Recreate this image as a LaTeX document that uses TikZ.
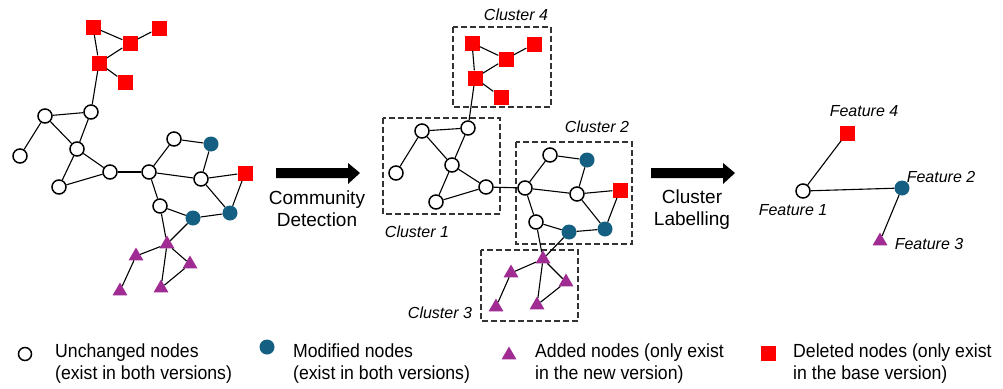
\documentclass[tikz,border=0pt]{standalone}
\usepackage{fontspec}
\setmainfont{Liberation Sans}
\newfontfamily\legfont[FakeStretch=0.93]{Liberation Sans}
\usetikzlibrary{shapes.geometric}
\definecolor{modblue}{HTML}{156082}
\definecolor{addpurple}{HTML}{A02B93}
\definecolor{delred}{HTML}{FF0000}
\tikzset{
  wnode/.style={circle,draw=black,line width=1.5pt,fill=white,minimum size=14pt,inner sep=0pt},
  bnode/.style={circle,fill=modblue,minimum size=15pt,inner sep=0pt},
  rnode/.style={rectangle,fill=delred,minimum size=15pt,inner sep=0pt},
  tnode/.style={regular polygon,regular polygon sides=3,fill=addpurple,minimum size=17pt,inner sep=0pt},
  edge/.style={line width=1.1pt,black},
  clusterbox/.style={draw=black!80,line width=1.2pt,dash pattern=on 6pt off 3pt},
  clabel/.style={font=\fontsize{16}{18}\selectfont\itshape,inner sep=0pt},
  stepdesc/.style={font=\fontsize{19}{22}\selectfont,align=center,inner sep=0pt},
  legtext/.style={font=\legfont\fontsize{19}{22}\selectfont,align=left,anchor=west,inner sep=0pt},
}
\begin{document}
\begin{tikzpicture}[x=1pt,y=-1pt]
\useasboundingbox (0,0) rectangle (1003,388);

% ---------------- Left graph ----------------
\node[rnode] (lS1) at (93,27) {};
\node[rnode] (lS2) at (130,43) {};
\node[rnode] (lS3) at (159,28) {};
\node[rnode] (lS4) at (99,63) {};
\node[rnode] (lS5) at (125,82) {};
\node[wnode] (lA) at (45,116) {};
\node[wnode] (lB) at (91,112) {};
\node[wnode] (lC) at (20,156) {};
\node[wnode] (lD) at (77,149) {};
\node[wnode] (lE) at (110,172) {};
\node[wnode] (lF) at (59,187) {};
\node[wnode] (lG) at (149,172) {};
\node[wnode] (lH) at (174,139) {};
\node[wnode] (lI) at (201,179) {};
\node[wnode] (lJ) at (160,206) {};
\node[bnode] (lK) at (211,144) {};
\node[bnode] (lL) at (193,218) {};
\node[bnode] (lM) at (230,213) {};
\node[rnode] (lN) at (245,173) {};
\node[tnode] (lT1) at (167,244) {};
\node[tnode] (lT2) at (136,256) {};
\node[tnode] (lT3) at (190,264) {};
\node[tnode] (lT4) at (120,291) {};
\node[tnode] (lT5) at (161,288) {};
\foreach \a/\b in {S1/S4,S1/S2,S2/S3,S2/S4,S4/S5,S4/B,A/B,A/C,A/D,B/D,D/E,D/F,E/F,E/G,G/H,G/I,G/J,H/K,K/I,I/N,I/M,N/M,J/L,L/M,J/T1,L/T1,T1/T2,T1/T5,T1/T3,T3/T5,T2/T4}
  \draw[edge] (l\a) -- (l\b);

% ---------------- Arrow 1 ----------------
\fill[black] (276,168) -- (348,168) -- (348,163) -- (360,173) -- (348,184) -- (348,178) -- (276,178) -- cycle;
\node[stepdesc] (cd) at (317,209) {Community\\Detection};

% ---------------- Middle graph ----------------
\draw[clusterbox] (453,27) rectangle (551,107);
\draw[clusterbox] (383,118) rectangle (500,214);
\draw[clusterbox] (516,142) rectangle (632,244);
\draw[clusterbox] (481,250) rectangle (578,321);
\node[clabel] (c4) at (516,15) {Cluster 4};
\node[clabel] (c1) at (417,232) {Cluster 1};
\node[clabel] (c2) at (597,127) {Cluster 2};
\node[clabel] (c3) at (440,313) {Cluster 3};

\node[rnode] (mS1) at (472,43) {};
\node[rnode] (mS2) at (506,59) {};
\node[rnode] (mS3) at (534,44) {};
\node[rnode] (mS4) at (475,78) {};
\node[rnode] (mS5) at (501,97) {};
\node[wnode] (mA) at (422,131) {};
\node[wnode] (mB) at (468,128) {};
\node[wnode] (mC) at (396,173) {};
\node[wnode] (mD) at (452,165) {};
\node[wnode] (mE) at (486,187) {};
\node[wnode] (mF) at (436,202) {};
\node[wnode] (mG) at (525,188) {};
\node[wnode] (mH) at (550,155) {};
\node[wnode] (mI) at (577,194) {};
\node[wnode] (mJ) at (536,222) {};
\node[bnode] (mK) at (587,160) {};
\node[bnode] (mL) at (569,232) {};
\node[bnode] (mM) at (605,229) {};
\node[rnode] (mN) at (620,190) {};
\node[tnode] (mT1) at (543,259) {};
\node[tnode] (mT2) at (511,273) {};
\node[tnode] (mT3) at (566,282) {};
\node[tnode] (mT4) at (496,307) {};
\node[tnode] (mT5) at (537,305) {};
\foreach \a/\b in {S1/S4,S1/S2,S2/S3,S2/S4,S4/S5,S4/B,A/B,A/C,A/D,B/D,D/E,D/F,E/F,E/G,G/H,G/I,G/J,H/K,K/I,I/N,I/M,N/M,J/L,L/M,J/T1,L/T1,T1/T2,T1/T5,T1/T3,T3/T5,T2/T4}
  \draw[edge] (m\a) -- (m\b);

% ---------------- Arrow 2 ----------------
\fill[black] (651,168) -- (723,168) -- (723,163) -- (735,173) -- (723,184) -- (723,178) -- (651,178) -- cycle;
\node[stepdesc] (cl) at (692,210) {Cluster\\Labelling};

% ---------------- Right graph ----------------
\node[wnode] (rF1) at (803,191) {};
\node[rnode] (rF4) at (847,133) {};
\node[bnode] (rF2) at (902,188) {};
\node[tnode] (rF3) at (880,241) {};
\draw[edge] (rF1) -- (rF4);
\draw[edge] (rF1) -- (rF2);
\draw[edge] (rF2) -- (rF3);
\node[clabel] (f4) at (864,111) {Feature 4};
\node[clabel] (f2) at (941,177) {Feature 2};
\node[clabel] (f1) at (793,210) {Feature 1};
\node[clabel] (f3) at (929,244) {Feature 3};

% ---------------- Legend ----------------
\node[wnode,minimum size=13pt] (lg1) at (25,354) {};
\node[legtext] (lt1) at (55,364) {Unchanged nodes\\(exist in both versions)};
\node[bnode] (lg2) at (267,347) {};
\node[legtext] (lt2) at (293,364) {Modified nodes\\(exist in both versions)};
\node[tnode] (lg3) at (509,355) {};
\node[legtext] (lt3) at (535,364) {Added nodes (only exist\\in the new version)};
\node[rnode] (lg4) at (768,353) {};
\node[legtext] (lt4) at (793,364) {Deleted nodes (only exist\\in the base version)};
\end{tikzpicture}
\end{document}
